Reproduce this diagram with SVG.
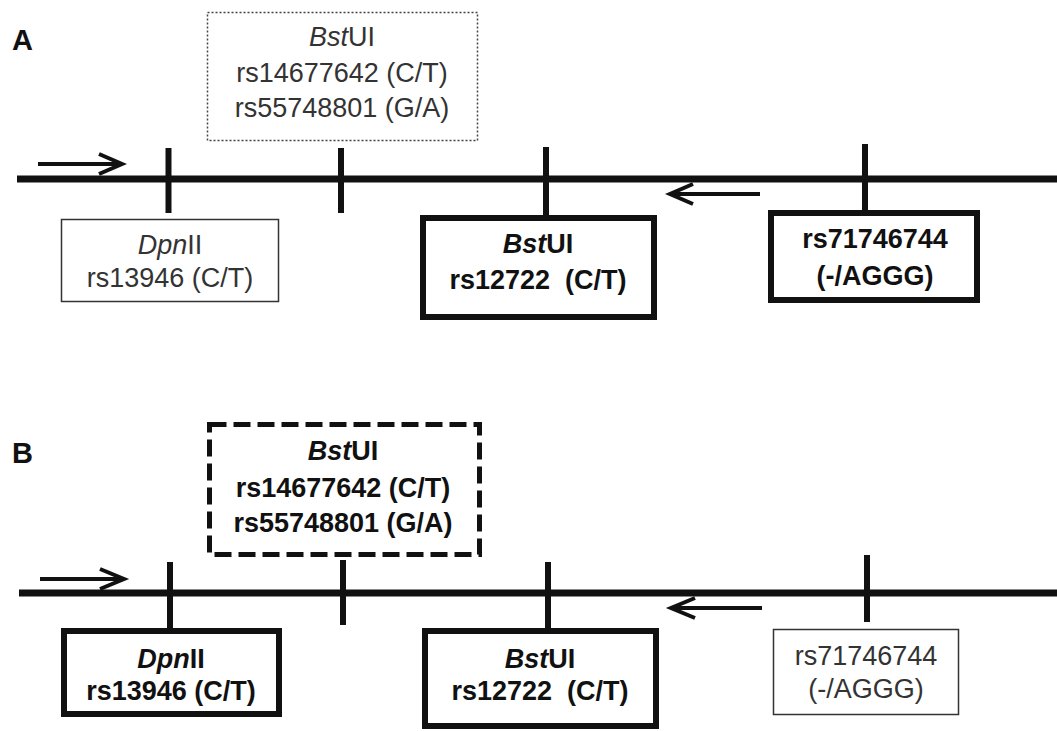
<svg xmlns="http://www.w3.org/2000/svg" width="1057" height="731" viewBox="0 0 1057 731">
<style>
text{font-family:"Liberation Sans",Arial,sans-serif;font-size:27px;text-anchor:middle}
.reg{fill:#333}
.bold{fill:#111;font-weight:bold}
.it{font-style:italic}
.lbl{font-weight:bold;font-size:29px;text-anchor:start;fill:#111}
.thin{fill:none;stroke:#333;stroke-width:1.5}
.dot{fill:none;stroke:#444;stroke-width:1.5;stroke-dasharray:2 2}
.thick{fill:none;stroke:#111;stroke-width:6}
.dash{fill:none;stroke:#111;stroke-width:5;stroke-dasharray:17 7}
.main{stroke:#111;stroke-width:7}
.tick{stroke:#111;stroke-width:6}
.arr{fill:none;stroke:#111;stroke-width:4}
</style>
<rect width="1057" height="731" fill="#fff"/>
<g id="panelA">
<text class="lbl" x="12" y="50" textLength="25">A</text>
<g id="connectorsA">
<line class="main" x1="17" y1="179" x2="1057" y2="179"/>
<line class="tick" x1="168.5" y1="148" x2="168.5" y2="213"/>
<line class="tick" x1="341" y1="148" x2="341" y2="213"/>
<line class="tick" x1="546" y1="147" x2="546" y2="218"/>
<line class="tick" x1="865" y1="144" x2="865" y2="213"/>
<line class="arr" x1="38" y1="164" x2="121" y2="164"/>
<path class="arr" d="M99,154 L122,164 L99,174"/>
<line class="arr" x1="760" y1="194" x2="672" y2="194"/>
<path class="arr" d="M693,184 L670,194 L693,204"/>
</g>
<g id="a-bstui-top">
<rect class="dot" x="207.5" y="12.5" width="270" height="128"/>
<text class="reg" x="342" y="46"><tspan class="it">Bst</tspan>UI</text>
<text class="reg" x="342" y="82">rs14677642 (C/T)</text>
<text class="reg" x="342" y="117">rs55748801 (G/A)</text>
</g>
<g id="a-dpnii">
<rect class="thin" x="61.5" y="219.5" width="217" height="82" fill="#fff"/>
<text class="reg" x="170" y="254"><tspan class="it">Dpn</tspan>II</text>
<text class="reg" x="170" y="287">rs13946 (C/T)</text>
</g>
<g id="a-bstui-rs12722">
<rect class="thick" x="423" y="218" width="231" height="99"/>
<text class="bold" x="538" y="253"><tspan class="it">Bst</tspan>UI</text>
<text class="bold" x="538" y="289" xml:space="preserve">rs12722  (C/T)</text>
</g>
<g id="a-rs71746744">
<rect class="thick" x="771" y="213" width="206" height="87"/>
<text class="bold" x="875" y="248">rs71746744</text>
<text class="bold" x="875" y="285">(-/AGGG)</text>
</g>
</g>
<g id="panelB">
<text class="lbl" x="12" y="463" textLength="24">B</text>
<g id="connectorsB">
<line class="main" x1="19" y1="593" x2="1057" y2="593"/>
<line class="tick" x1="170" y1="562" x2="170" y2="631"/>
<line class="tick" x1="343" y1="560" x2="343" y2="625"/>
<line class="tick" x1="548" y1="562" x2="548" y2="631"/>
<line class="tick" x1="867" y1="555" x2="867" y2="622"/>
<line class="arr" x1="40" y1="579" x2="123" y2="579"/>
<path class="arr" d="M100,569 L124,579 L100,589"/>
<line class="arr" x1="762" y1="608" x2="672" y2="608"/>
<path class="arr" d="M695,598 L671,608 L695,618"/>
</g>
<g id="b-bstui-top">
<rect class="dash" x="209.5" y="424.5" width="270" height="130"/>
<text class="bold" x="343" y="460"><tspan class="it">Bst</tspan>UI</text>
<text class="bold" x="343" y="497">rs14677642 (C/T)</text>
<text class="bold" x="343" y="532">rs55748801 (G/A)</text>
</g>
<g id="b-dpnii">
<rect class="thick" x="64" y="631" width="215" height="83"/>
<text class="bold" x="171" y="668"><tspan class="it">Dpn</tspan>II</text>
<text class="bold" x="171" y="700">rs13946 (C/T)</text>
</g>
<g id="b-bstui-rs12722">
<rect class="thick" x="425" y="631" width="231" height="95"/>
<text class="bold" x="540" y="668"><tspan class="it">Bst</tspan>UI</text>
<text class="bold" x="540" y="700" xml:space="preserve">rs12722  (C/T)</text>
</g>
<g id="b-rs71746744">
<rect class="thin" x="773.5" y="629.5" width="185" height="85"/>
<text class="reg" x="866" y="665">rs71746744</text>
<text class="reg" x="866" y="698">(-/AGGG)</text>
</g>
</g>
</svg>
